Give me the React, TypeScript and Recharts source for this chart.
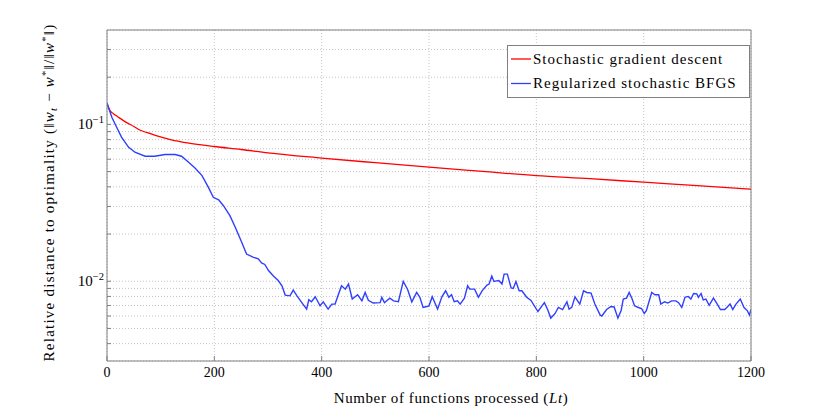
import { LineChart, Line, XAxis, YAxis, CartesianGrid, Label } from 'recharts';

// functions processed (Lt) and relative distance to optimality
const sgdN = [0, 2, 6, 12, 20, 35, 50, 60, 75, 90, 120, 150, 200, 250, 300, 400, 500, 600, 700, 800, 900, 1000, 1100, 1200];
const sgdErr = [0.137, 0.13, 0.122, 0.117, 0.112, 0.1035, 0.097, 0.0925, 0.0885, 0.0851, 0.0798, 0.0763, 0.0723, 0.0692, 0.0658, 0.061, 0.057, 0.0534, 0.0502, 0.0472, 0.0451, 0.0428, 0.0407, 0.0386];

const bfgsN = [
  0, 9, 18, 27, 40, 52, 71, 89, 108, 127, 139, 152, 164, 177, 189, 198, 208, 217, 229, 239,
  251, 260, 273, 282, 288, 294, 301, 310, 319, 326, 332, 341, 347, 354, 363, 372, 376, 381, 388, 397,
  403, 412, 419, 425, 431, 437, 444, 450, 457, 467, 475, 481, 487, 496, 509, 512, 517, 527, 534, 543,
  552, 560, 568, 577, 583, 589, 596, 600, 606, 616, 624, 631, 637, 642, 647, 653, 658, 666, 672, 676,
  685, 692, 699, 708, 712, 717, 721, 726, 730, 736, 740, 746, 753, 757, 762, 768, 773, 782, 790, 803,
  815, 821, 827, 835, 841, 849, 857, 861, 866, 872, 881, 888, 894, 902, 909, 919, 922, 931, 939, 945,
  952, 958, 962, 968, 973, 978, 983, 990, 996, 1001, 1005, 1015, 1021, 1028, 1032, 1039, 1045, 1052, 1060, 1065,
  1071, 1077, 1083, 1088, 1093, 1099, 1102, 1107, 1111, 1116, 1122, 1130, 1136, 1143, 1151, 1155, 1161, 1166, 1172, 1180,
  1187, 1193, 1197, 1200,
];
const bfgsErr = [
  0.137, 0.111, 0.096, 0.083, 0.0717, 0.0665, 0.0627, 0.0627, 0.0643, 0.0643, 0.0627, 0.0574, 0.0528, 0.0472, 0.0397, 0.0343, 0.033, 0.0303, 0.0262, 0.0221,
  0.0177, 0.0149, 0.0142, 0.0139, 0.0131, 0.0128, 0.0117, 0.0108, 0.0101, 0.00935, 0.00816, 0.00807, 0.00878, 0.00807, 0.00731, 0.00664, 0.00762, 0.0074, 0.00796, 0.00697,
  0.00738, 0.00664, 0.00715, 0.00715, 0.0082, 0.00935, 0.0089, 0.0096, 0.0077, 0.0082, 0.0075, 0.00848, 0.00755, 0.00726, 0.0073, 0.00789, 0.0073, 0.0078, 0.0075, 0.0074,
  0.00997, 0.0089, 0.00738, 0.00848, 0.0079, 0.00681, 0.0069, 0.00697, 0.00796, 0.00664, 0.00796, 0.00869, 0.0079, 0.0082, 0.0074, 0.0075, 0.00715, 0.0078, 0.00935, 0.0089,
  0.0089, 0.0079, 0.00869, 0.00946, 0.0096, 0.0108, 0.00997, 0.01006, 0.0101, 0.0096, 0.0111, 0.0111, 0.00906, 0.009, 0.00997, 0.00869, 0.0087, 0.0079, 0.00755, 0.00641,
  0.0073, 0.0066, 0.00582, 0.00623, 0.00681, 0.0066, 0.0074, 0.00664, 0.00681, 0.00796, 0.00715, 0.00869, 0.00848, 0.0084, 0.00715, 0.00608, 0.006, 0.0066, 0.0069, 0.00685,
  0.00582, 0.0065, 0.0077, 0.0078, 0.00848, 0.0078, 0.00697, 0.0068, 0.0067, 0.00623, 0.0065, 0.00848, 0.0082, 0.0082, 0.00715, 0.0074, 0.00726, 0.0075, 0.0075, 0.0073,
  0.0068, 0.0079, 0.008, 0.0077, 0.00836, 0.0083, 0.0079, 0.00836, 0.0076, 0.0077, 0.00702, 0.0078, 0.00726, 0.0066, 0.0066, 0.0068, 0.00715, 0.0066, 0.00715, 0.0077,
  0.0068, 0.0065, 0.00608, 0.0066,
];

const xTicks = [0, 200, 400, 600, 800, 1000, 1200];
const yTicks = [0.004, 0.005, 0.006, 0.007, 0.008, 0.009, 0.01, 0.02, 0.03, 0.04, 0.05, 0.06, 0.07, 0.08, 0.09, 0.1, 0.2, 0.3];
const yMajor = [0.01, 0.1];
const yDomain = [0.0031, 0.4];

const seriesNames = ['Stochastic gradient descent', 'Regularized stochastic BFGS'];
const seriesColors = ['#ff0000', '#2f3fff'];

const sgdData = sgdN.map((n, i) => ({ n, v: sgdErr[i] }));
const bfgsData = bfgsN.map((n, i) => ({ n, v: bfgsErr[i] }));

const FONT = '"Liberation Serif", "DejaVu Serif", serif';
const AXIS = '#808080';

function YTick({ x, y, payload }: any) {
  const v = payload.value;
  if (!yMajor.includes(v)) return <g />;
  const exp = Math.round(Math.log10(v));
  return (
    <text x={x} y={y} textAnchor="end" fontFamily={FONT} fontSize={15} fill="#000">
      <tspan dy={5}>10</tspan>
      <tspan dy={-6} fontSize={10.5}>{'\u2212' + Math.abs(exp)}</tspan>
    </text>
  );
}

function XTick({ x, y, payload }: any) {
  return (
    <text x={x} y={y} textAnchor="middle" fontFamily={FONT} fontSize={14} fill="#000">
      {payload.value}
    </text>
  );
}

function XLabel({ viewBox }: any) {
  const { x, y, width } = viewBox;
  return (
    <text x={x + width / 2 + 22} y={y + 41.5} textAnchor="middle" fontFamily={FONT} fontSize={15} fill="#000" letterSpacing={0.6}>
      Number of functions processed (<tspan fontStyle="italic">Lt</tspan>)
    </text>
  );
}

function YLabel({ viewBox }: any) {
  const { y, height } = viewBox;
  const cx = 54;
  const cy = y + height / 2 - 3;
  return (
    <text x={cx} y={cy} transform={`rotate(-90 ${cx} ${cy})`} textAnchor="middle" fontFamily={FONT} fontSize={15} fill="#000" letterSpacing={1.25}>
      Relative distance to optimality (‖<tspan fontStyle="italic">w</tspan>
      <tspan dy={3} fontSize={10.5} fontStyle="italic">t</tspan>
      <tspan dy={-3}> − </tspan>
      <tspan fontStyle="italic">w</tspan>
      <tspan dy={-5} fontSize={10.5}>*</tspan>
      <tspan dy={5}>‖/‖</tspan>
      <tspan fontStyle="italic">w</tspan>
      <tspan dy={-5} fontSize={10.5}>*</tspan>
      <tspan dy={5}>‖)</tspan>
    </text>
  );
}

function LegendBox() {
  return (
    <svg width={830} height={407} style={{ position: 'absolute', left: 0, top: 0, pointerEvents: 'none' }}>
      <rect x={507.5} y={45.5} width={242} height={52} fill="#fff" stroke={AXIS} strokeWidth={1} />
      {seriesNames.map((name, i) => (
        <g key={name}>
          <line x1={511} x2={531} y1={59 + i * 24.5} y2={59 + i * 24.5} stroke={seriesColors[i]} strokeWidth={1.3} />
          <text x={533} y={63.5 + i * 24.5} fontFamily={FONT} fontSize={15} fill="#000" letterSpacing={1}>
            {name}
          </text>
        </g>
      ))}
    </svg>
  );
}

export default function App() {
  return (
    <div style={{ position: 'absolute', left: 0, top: 0, width: 830, height: 407, background: '#fff' }}>
      <LineChart width={830} height={407} margin={{ top: 0, right: 0, bottom: 0, left: 0 }}>
        <CartesianGrid stroke="#c4c4c4" strokeDasharray="1 2" />
        <XAxis
          dataKey="n"
          type="number"
          domain={[0, 1200]}
          ticks={xTicks}
          allowDataOverflow
          height={46}
          stroke={AXIS}
          tickSize={-5}
          tickMargin={21}
          tick={<XTick />}
        >
          <Label content={<XLabel />} />
        </XAxis>
        <XAxis
          xAxisId="top"
          orientation="top"
          dataKey="n"
          type="number"
          domain={[0, 1200]}
          ticks={xTicks}
          allowDataOverflow
          height={30}
          stroke={AXIS}
          tickSize={-5}
          tick={false}
        />
        <YAxis
          type="number"
          scale="log"
          domain={yDomain}
          ticks={yTicks}
          allowDataOverflow
          width={107}
          stroke={AXIS}
          tickSize={-4}
          tickMargin={7}
          tick={<YTick />}
          interval={0}
        >
          <Label content={<YLabel />} />
        </YAxis>
        <YAxis
          yAxisId="r"
          orientation="right"
          type="number"
          scale="log"
          domain={yDomain}
          ticks={yTicks}
          allowDataOverflow
          width={79}
          stroke={AXIS}
          tickSize={-4}
          tick={false}
          interval={0}
        />
        <Line
          data={sgdData}
          dataKey="v"
          type="monotone"
          stroke={seriesColors[0]}
          strokeWidth={1.3}
          dot={false}
          isAnimationActive={false}
        />
        <Line
          data={bfgsData}
          dataKey="v"
          type="linear"
          stroke={seriesColors[1]}
          strokeWidth={1.4}
          dot={false}
          isAnimationActive={false}
        />
      </LineChart>
      <LegendBox />
    </div>
  );
}
